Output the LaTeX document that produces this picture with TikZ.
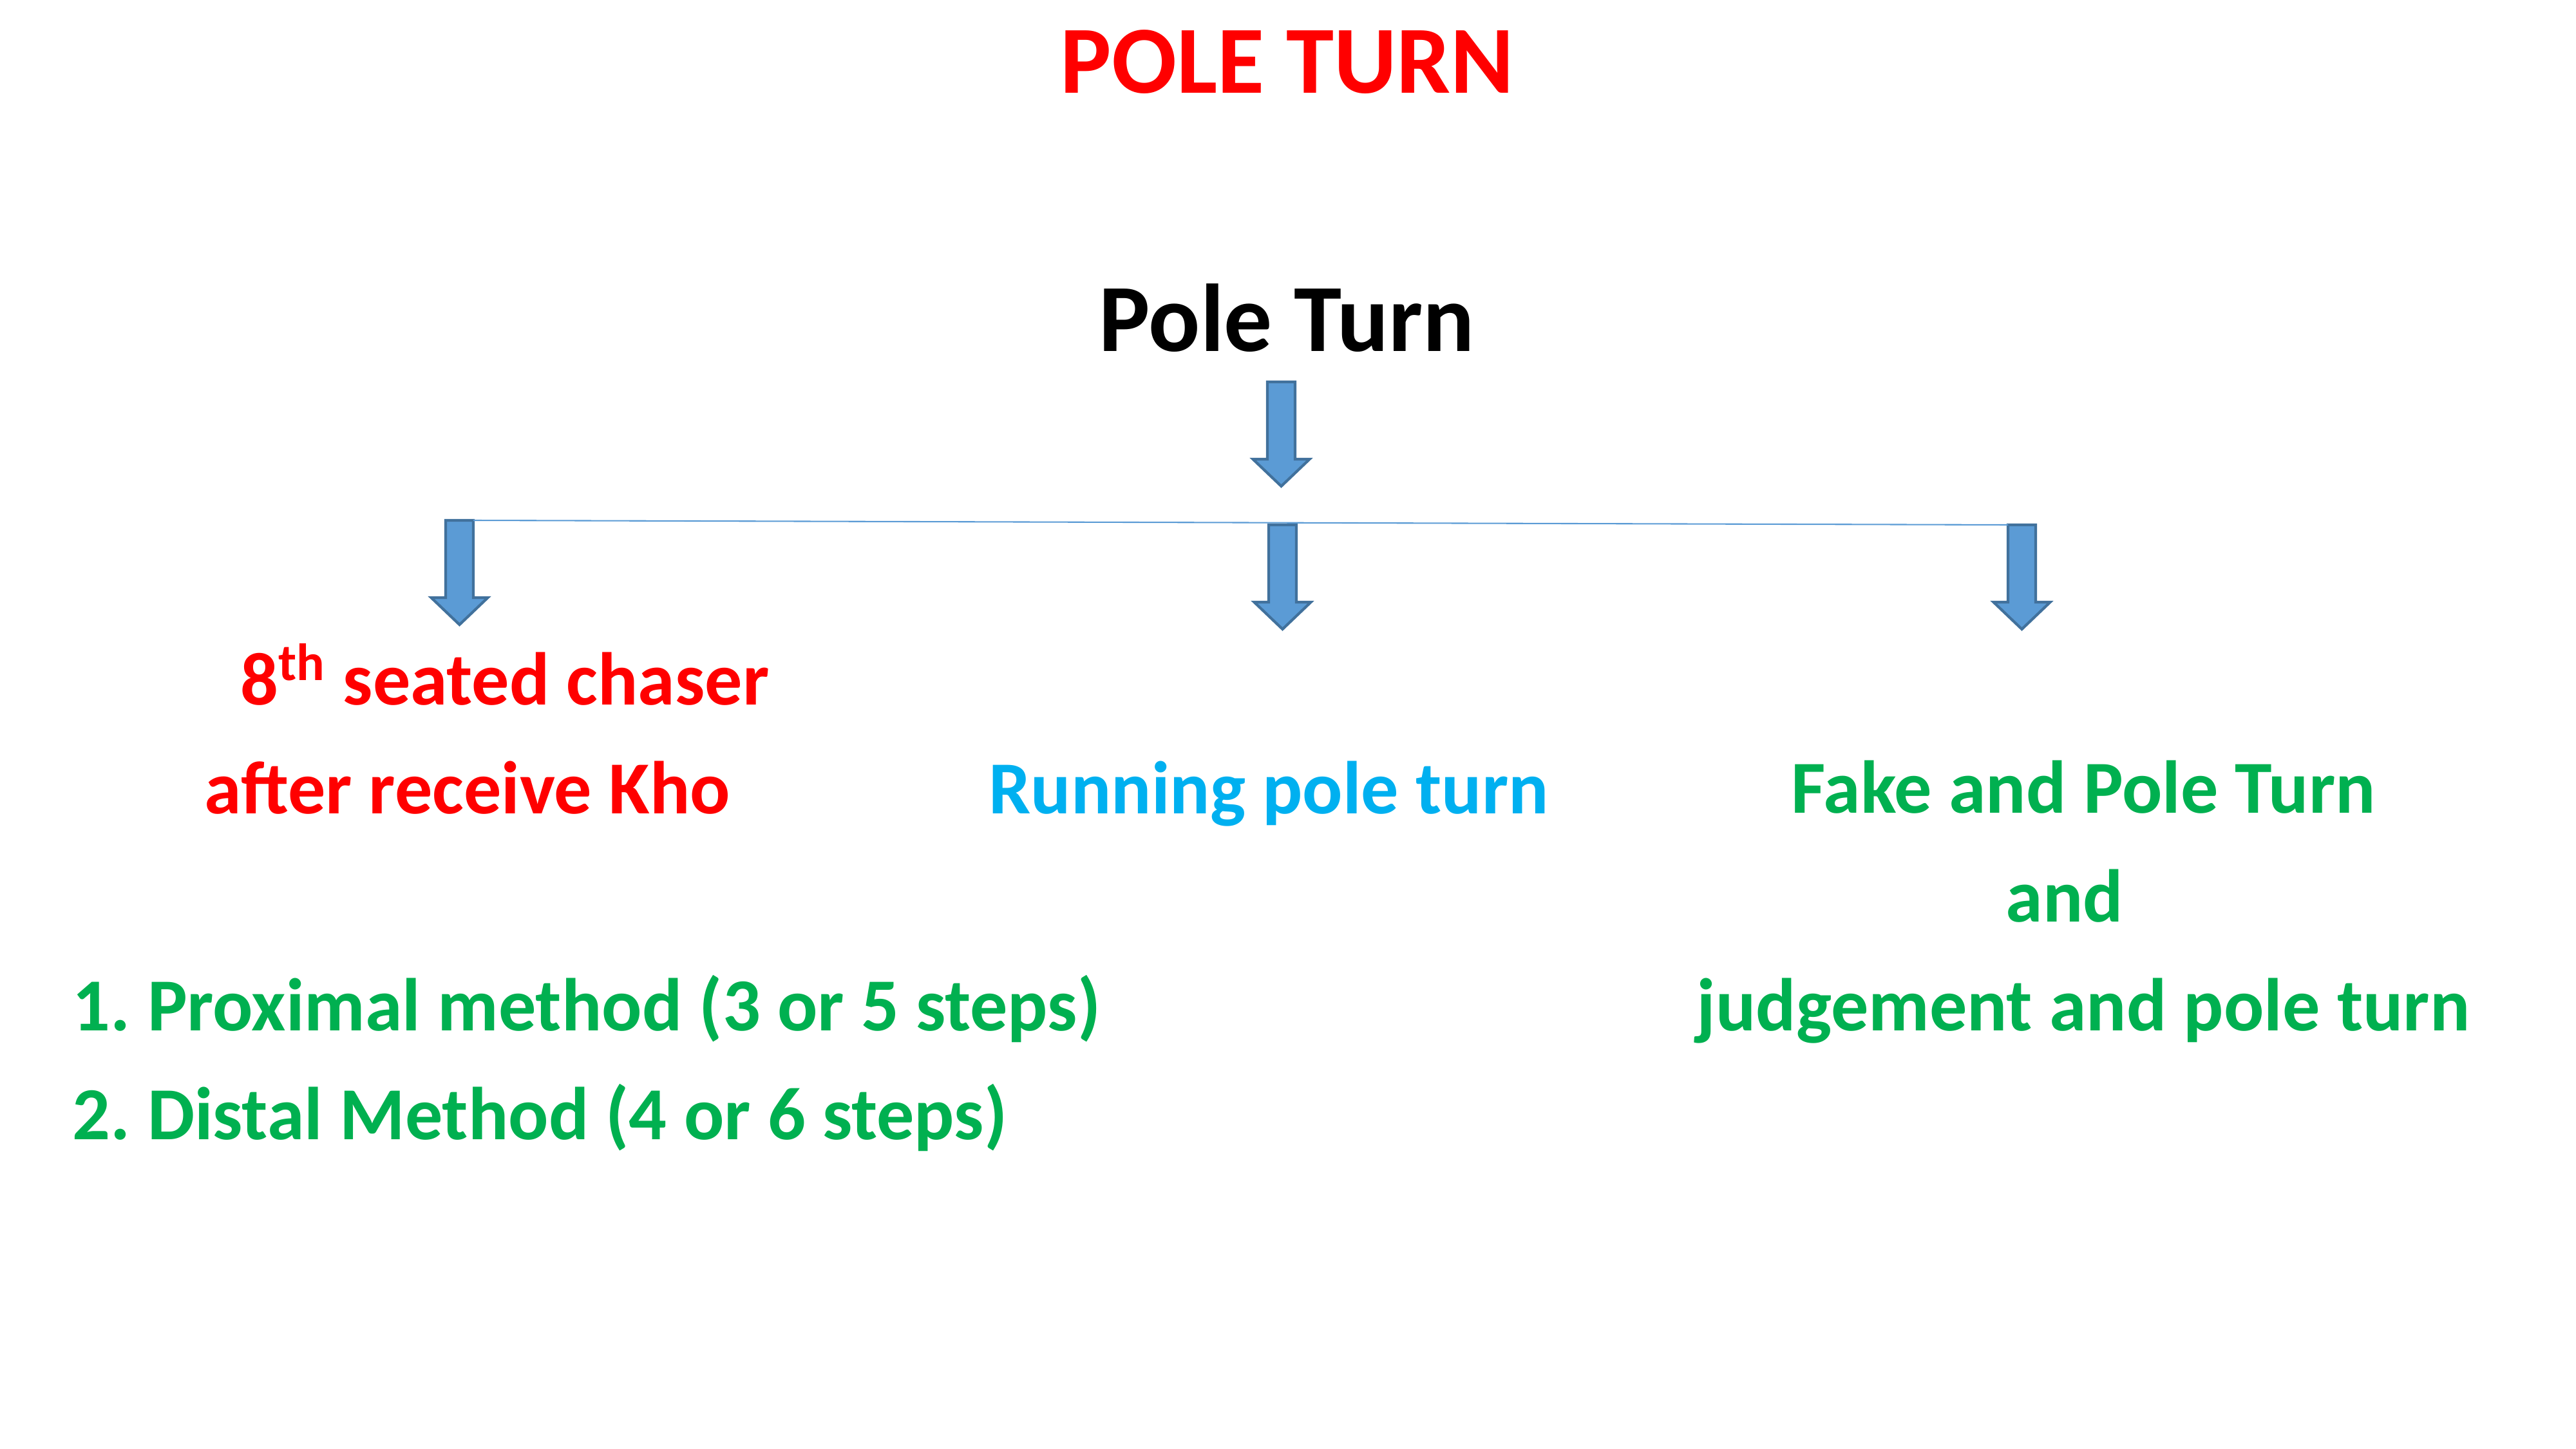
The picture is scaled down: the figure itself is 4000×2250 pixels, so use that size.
\documentclass[tikz,border=0pt]{standalone}
\usepackage{fontspec}
\setmainfont{Carlito}
\definecolor{slidered}{HTML}{FF0000}
\definecolor{slideblue}{HTML}{00B0F0}
\definecolor{slidegreen}{HTML}{00B050}
\definecolor{arrowfill}{HTML}{5B9BD5}
\definecolor{arrowline}{HTML}{41719C}

\tikzset{
  pics/blockarrow/.style={
    code={
      \draw[fill=arrowfill, draw=arrowline, line width=1pt]
        (-21.5,0) -- (21.5,0) -- (21.5,120) -- (44,120) -- (0,162)
        -- (-44,120) -- (-21.5,120) -- cycle;
      \coordinate (-nw) at (-21.5,0);
      \coordinate (-ne) at (21.5,0);
    }
  }
}

\begin{document}
\frenchspacing
\begin{tikzpicture}[
    x=0.0846667mm,
    y=-0.0846667mm,
    heading/.style={
        font=\fontsize{36}{43}\selectfont\bfseries,
        anchor=base,
        inner sep=0pt
    },
    itemtext/.style={
        font=\fontsize{28}{40.7}\selectfont\bfseries,
        anchor=base,
        inner sep=0pt
    },
    branch/.style={
        draw=arrowfill, line width=0.5pt
    }
]
\useasboundingbox (0,0) rectangle (4000,2250);

% Headings
\node [heading, text=slidered] (title) at (1999,145) {POLE TURN};
\node [heading] (pole) at (1998,546) {Pole Turn};

% Arrows
\pic (toparr) at (1989.5,593) {blockarrow};
\pic (leftarr) at (713.5,808) {blockarrow};
\pic (midarr) at (1991.5,815) {blockarrow};
\pic (rightarr) at (3139.5,815) {blockarrow};
\draw [branch] (leftarr-ne) -- (rightarr-nw);

% Branches (base = last line)
\node [itemtext, text=slidered, align=center] (chaser) at (726,1263)
    {\quad 8\textsuperscript{th} seated chaser\\after receive Kho};
\node [itemtext, text=slideblue] (running) at (1970,1263) {Running pole turn};
\node [itemtext, text=slidegreen, align=center] (fake) at (3235,1600)
    {Fake and Pole Turn\\and\hbox to 0.5em{}\\judgement and pole turn};
\node [itemtext, text=slidegreen, align=left, anchor=base west] (methods) at (112,1769)
    {1. Proximal method (3 or 5 steps)\\2. Distal Method (4 or 6 steps)};

\end{tikzpicture}
\end{document}
